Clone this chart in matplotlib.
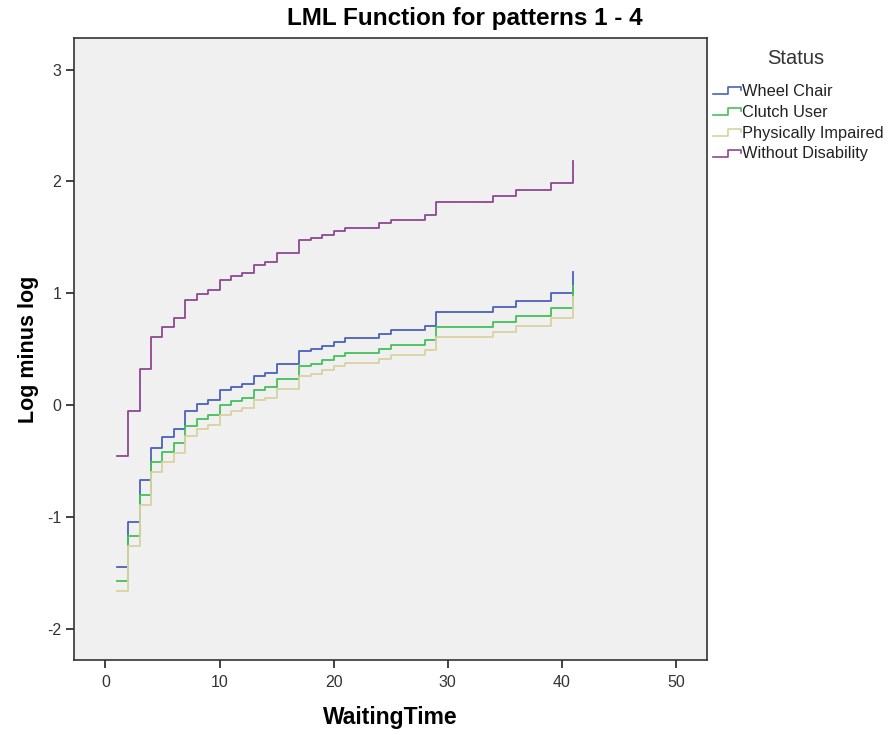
import matplotlib
matplotlib.use("Agg")
import matplotlib.pyplot as plt
from matplotlib.legend_handler import HandlerBase
from matplotlib.lines import Line2D

plt.rcParams['font.family'] = ['Liberation Sans', 'DejaVu Sans']
plt.rcParams['axes.unicode_minus'] = False

# waiting times where the curves step
tiempos = [1, 2, 3, 4, 5, 6, 7, 8, 9, 10, 11, 12, 13, 14, 15, 17, 18, 19, 20, 21,
           24, 25, 28, 29, 34, 36, 39, 41]

wheel_chair = [-1.445, -1.044, -0.672, -0.383, -0.290, -0.213, -0.053, 0.007, 0.043,
               0.132, 0.165, 0.190, 0.263, 0.287, 0.367, 0.483, 0.500, 0.530, 0.566,
               0.596, 0.635, 0.668, 0.710, 0.830, 0.876, 0.930, 0.998, 1.190]
clutch_user = [-1.575, -1.174, -0.802, -0.513, -0.420, -0.343, -0.183, -0.123, -0.087,
               0.002, 0.035, 0.060, 0.133, 0.157, 0.237, 0.353, 0.370, 0.400, 0.436,
               0.466, 0.505, 0.538, 0.580, 0.700, 0.746, 0.800, 0.868, 1.060]
physically_impaired = [-1.665, -1.264, -0.892, -0.603, -0.510, -0.433, -0.273, -0.213,
                       -0.177, -0.088, -0.055, -0.030, 0.043, 0.067, 0.147, 0.263, 0.280,
                       0.310, 0.346, 0.376, 0.415, 0.448, 0.490, 0.610, 0.656, 0.710,
                       0.778, 0.970]
without_disability = [-0.455, -0.054, 0.318, 0.607, 0.700, 0.777, 0.937, 0.997, 1.033,
                      1.122, 1.155, 1.180, 1.253, 1.277, 1.357, 1.473, 1.490, 1.520, 1.556,
                      1.586, 1.625, 1.658, 1.700, 1.820, 1.866, 1.920, 1.988, 2.180]

etiquetas = ["Wheel Chair", "Clutch User", "Physically Impaired", "Without Disability"]
colores = ["#4a62b8", "#44c05a", "#d8d3a0", "#8e4892"]
series = [wheel_chair, clutch_user, physically_impaired, without_disability]


class StepHandler(HandlerBase):
    # draws the little step shape SPSS uses in the legend
    def create_artists(self, legend, orig_handle, xdescent, ydescent, width, height,
                       fontsize, trans):
        x0 = -xdescent
        y0 = -ydescent
        xs = [x0, x0 + 0.55 * width, x0 + 0.55 * width, x0 + width, x0 + width]
        ys = [y0 + 0.15 * height, y0 + 0.15 * height, y0 + 0.75 * height,
              y0 + 0.75 * height, y0 + 0.5 * height]
        linea = Line2D(xs, ys, color=orig_handle.get_color(), lw=1.2)
        linea.set_transform(trans)
        return [linea]


fig = plt.figure(figsize=(8.88, 7.35), dpi=100)
ax = fig.add_axes([0.0833, 0.102, 0.7128, 0.846])
ax.set_facecolor("#f0f0f0")

lineas = []
for valores, color, etiqueta in zip(series, colores, etiquetas):
    l, = ax.plot(tiempos, valores, drawstyle="steps-post", color=color, lw=1.3,
                 label=etiqueta)
    lineas.append(l)

ax.set_xlim(-2.75, 52.7)
ax.set_ylim(-2.28, 3.28)
ax.set_xticks([0, 10, 20, 30, 40, 50])
ax.set_yticks([-2, -1, 0, 1, 2, 3])
for s in ax.spines.values():
    s.set_color("#333333")
    s.set_linewidth(1.2)
ax.tick_params(axis="both", direction="out", length=6, width=1.3, color="#333333",
               labelsize=11.5, labelcolor="#333333")
ax.tick_params(axis="x", pad=5)
ax.tick_params(axis="y", pad=3)

ax.set_xlabel("WaitingTime", fontsize=16.5, fontweight="bold", labelpad=11)
ax.set_ylabel("Log minus log", fontsize=15.5, fontweight="bold", labelpad=6)
fig.text(0.524, 0.975, "LML Function for patterns 1 - 4", fontsize=17.5,
         fontweight="bold", ha="center", va="center")

fig.text(0.896, 0.920, "Status", fontsize=14.5, color="#333333", ha="center",
         va="center")
leg = fig.legend(handles=lineas, labels=etiquetas, loc="upper left",
                 bbox_to_anchor=(0.803, 0.886), frameon=False,
                 fontsize=11.8, handlelength=1.7,
                 handletextpad=0.05, labelspacing=0.36, borderaxespad=0,
                 borderpad=0, handler_map={Line2D: StepHandler()})
for t in leg.get_texts():
    t.set_color("#222222")

fig.savefig("out.png", dpi=100, facecolor="white")
